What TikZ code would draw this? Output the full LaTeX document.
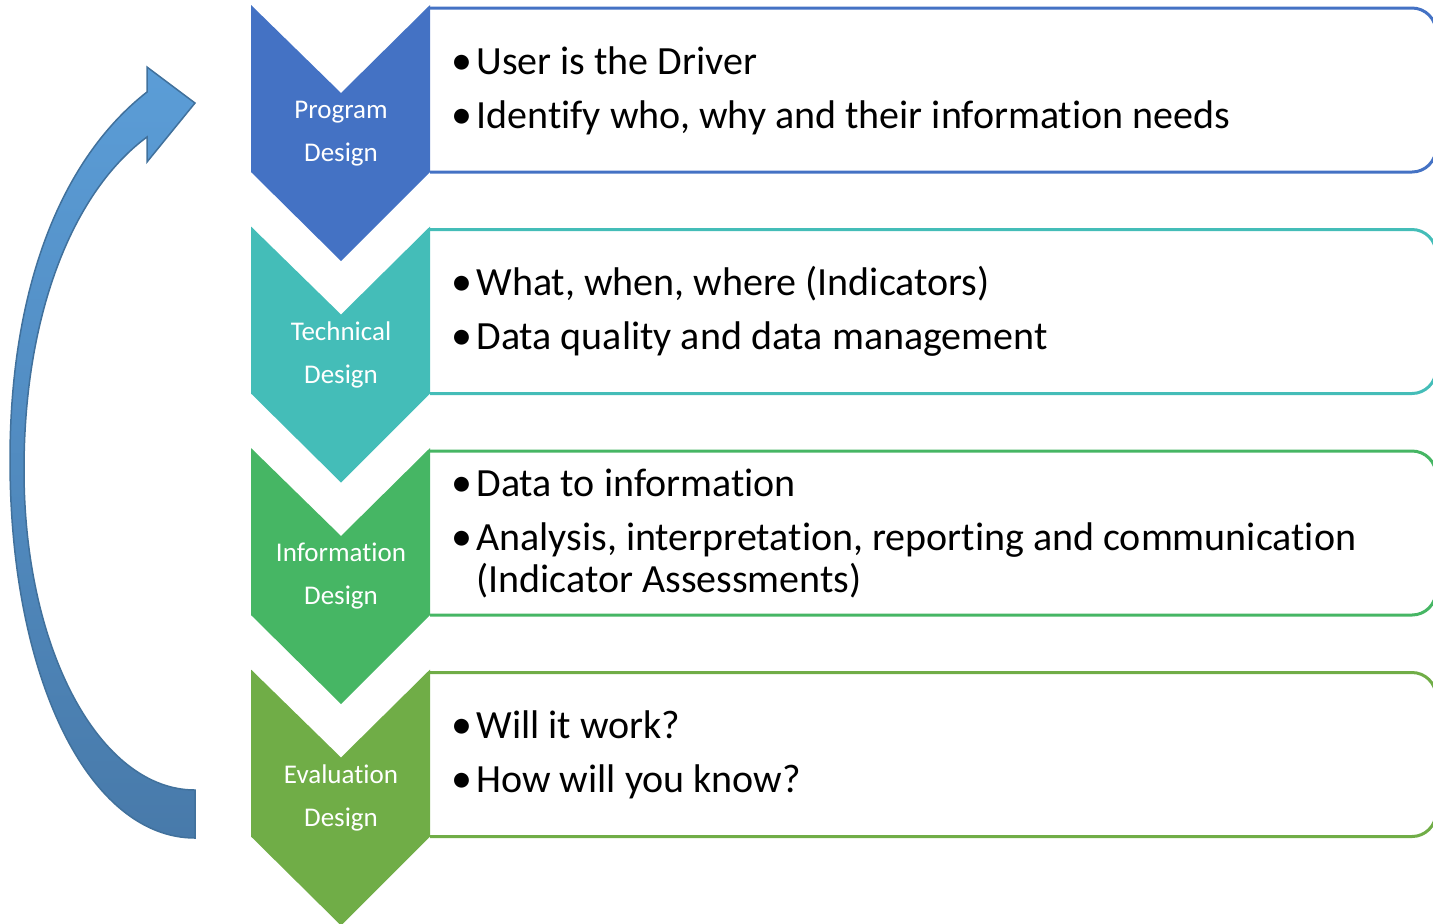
\documentclass[tikz,border=0pt]{standalone}
\usepackage{fontspec}
\setmainfont[Ligatures={NoCommon,NoContextual}]{Carlito}
\definecolor{cBlue}{RGB}{68,114,196}
\definecolor{cTeal}{RGB}{68,189,184}
\definecolor{cGreen}{RGB}{70,182,100}
\definecolor{cOlive}{RGB}{112,173,71}
\definecolor{arrTop}{RGB}{91,157,215}
\definecolor{arrBot}{RGB}{72,122,170}
\definecolor{arrLine}{RGB}{65,113,156}
\tikzset{
  chevlabel/.style={text=white, align=center, font=\fontsize{13.5}{21.5}\selectfont, inner sep=0pt},
  bullettext/.style={anchor=base west, font=\fontsize{20}{21}\selectfont, inner sep=0pt, align=left},
  bulletdot/.style={anchor=base, font=\fontsize{21}{21}\selectfont, inner sep=0pt},
  boxline/.style={line width=1.5pt, rounded corners=12pt}
}
\begin{document}
\begin{tikzpicture}[x=0.5pt,y=-0.5pt]
\useasboundingbox (0,0) rectangle (1433,923);
\clip (0,0) rectangle (1433,923);
% boxes and chevrons
\foreach \o/\col/\na/\nb/\id in {0/cBlue/Program/Design/1, 221.5/cTeal/Technical/Design/2, 443/cGreen/Information/Design/3, 664.5/cOlive/Evaluation/Design/4}{
  \draw[boxline, draw=\col] (430,8+\o) -- (1436,8+\o) -- (1436,172+\o) -- (430,172+\o);
  \fill[\col] (251,5+\o) -- (341,93+\o) -- (430,5+\o) -- (430,172+\o) -- (341,261+\o) -- (251,172+\o) -- cycle;
  \node[chevlabel] (lab\id) at (341,133.5+\o) {\na\\\nb};
}
% box 1
\node[bulletdot] (b11) at (461.5,74) {\textbullet};
\node[bullettext] (t11) at (476,74) {User is the Driver};
\node[bulletdot] (b12) at (461.5,128) {\textbullet};
\node[bullettext] (t12) at (476,128) {Identify who, why and their information needs};
% box 2
\node[bulletdot] (b21) at (461.5,295.5) {\textbullet};
\node[bullettext] (t21) at (476,295.5) {What, when, where (Indicators)};
\node[bulletdot] (b22) at (461.5,349.5) {\textbullet};
\node[bullettext] (t22) at (476,349.5) {Data quality and data management};
% box 3
\node[bulletdot] (b31) at (461.5,496) {\textbullet};
\node[bullettext] (t31) at (476,496) {Data to information};
\node[bulletdot] (b32) at (461.5,550) {\textbullet};
\node[bullettext] (t32) at (476,550) {Analysis, interpretation, reporting and communication};
\node[bullettext] (t33) at (476,592) {(Indicator Assessments)};
% box 4
\node[bulletdot] (b41) at (461.5,738.5) {\textbullet};
\node[bullettext] (t41) at (476,738.5) {Will it work?};
\node[bulletdot] (b42) at (461.5,792.5) {\textbullet};
\node[bullettext] (t42) at (476,792.5) {How will you know?};
% curved arrow
\shade[top color=arrTop, bottom color=arrBot, draw=arrLine, line width=0.75pt, line join=miter]
  (195,838) .. controls (90,838) and (10,680) .. (10,460)
  .. controls (10,290) and (60,160) .. (147,92)
  -- (147,67) -- (195,103) -- (147,162) -- (147,137)
  .. controls (75,190) and (24,310) .. (24,470)
  .. controls (24,650) and (100,790) .. (195,790) -- cycle;
\end{tikzpicture}
\end{document}
